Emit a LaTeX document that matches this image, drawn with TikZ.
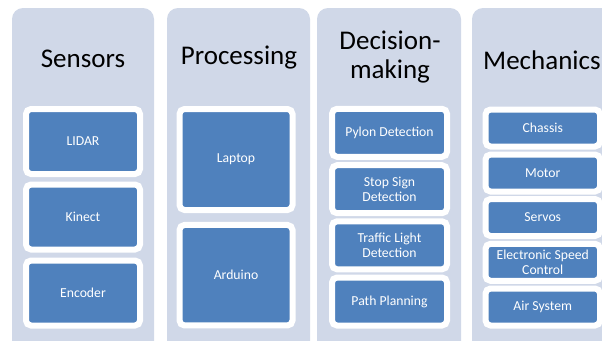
\documentclass[tikz,border=0pt]{standalone}
\usepackage{fontspec}
\setmainfont{Carlito}
\definecolor{panelc}{HTML}{D0D8E8}
\definecolor{boxc}{HTML}{4F81BD}
\begin{document}
\begin{tikzpicture}[x=1pt,y=-1pt,
  panel/.style={fill=panelc, draw=none, rounded corners=11pt},
  title/.style={font=\fontsize{27}{29}\selectfont, text=black, align=center, inner sep=0pt},
  item/.style={fill=boxc, draw=white, line width=6pt, rounded corners=5pt,
    text=white, font=\fontsize{13.7}{15.5}\selectfont, align=center, inner sep=0pt, anchor=center},
]
\useasboundingbox (0,0) rectangle (602,340);
\clip (0,0) rectangle (602,340);
\fill[white] (0,0) rectangle (602,340);
% panels
\path[panel] (12,8) rectangle (154,360);
\path[panel] (167,8) rectangle (310,360);
\path[panel] (317,8) rectangle (461,360);
\path[panel] (472,8) rectangle (620,360);
% titles
\node[title] (t1) at (83,58.5) {Sensors};
\node[title] (t2) at (239,58) {Processing};
\node[title] (t3) at (390,57) {Decision-\\making};
\node[title, anchor=west] (t4) at (483,60) {Mechanics};
% column 1
\node[item, minimum width=114pt, minimum height=65pt] (lidar) at (83,141.5) {LIDAR};
\node[item, minimum width=114pt, minimum height=65pt] (kinect) at (83,217) {Kinect};
\node[item, minimum width=114pt, minimum height=65pt] (enc) at (83,293) {Encoder};
% column 2
\node[item, minimum width=113pt, minimum height=101pt] (laptop) at (236,159.5) {Laptop};
\node[item, minimum width=113pt, minimum height=100.5pt] (ard) at (236,275.2) {Arduino};
% column 3
\node[item, minimum width=115pt, minimum height=48pt] (pylon) at (389.5,132.8) {Pylon Detection};
\node[item, minimum width=115pt, minimum height=48pt] (stop) at (389.5,189.2) {Stop Sign\\Detection};
\node[item, minimum width=115pt, minimum height=48pt] (traffic) at (389.5,245.3) {Traffic Light\\Detection};
\node[item, minimum width=115pt, minimum height=48pt] (path) at (389.5,301.5) {Path Planning};
% column 4
\node[item, minimum width=114.5pt, minimum height=37pt] (chassis) at (542.75,128) {Chassis};
\node[item, minimum width=114.5pt, minimum height=37pt] (motor) at (542.75,173) {Motor};
\node[item, minimum width=114.5pt, minimum height=37pt] (servos) at (542.75,217.5) {Servos};
\node[item, minimum width=114.5pt, minimum height=37pt] (esc) at (542.75,262.3) {Electronic Speed\\Control};
\node[item, minimum width=114.5pt, minimum height=37pt] (air) at (542.75,307) {Air System};
\end{tikzpicture}
\end{document}
